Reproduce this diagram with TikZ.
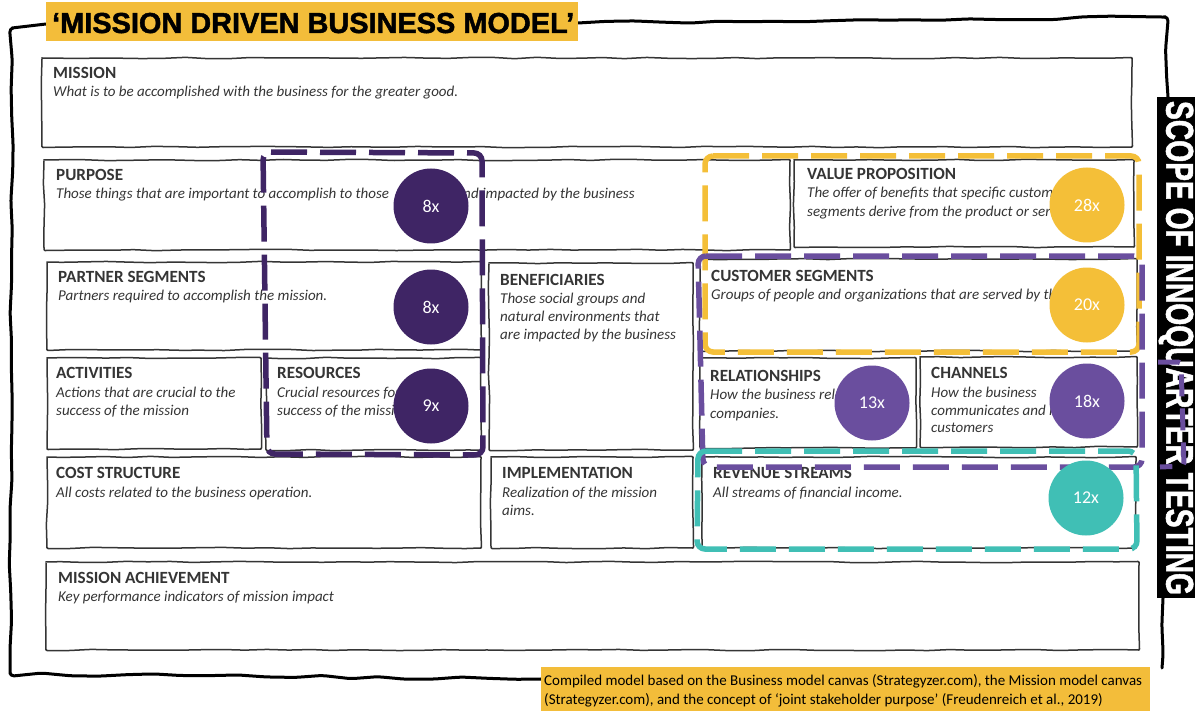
\documentclass[tikz,border=0pt]{standalone}
\usepackage{fontspec}
\usepackage{graphicx}
\setmainfont{Carlito}
\newfontfamily\heavy{Liberation Sans}[BoldFeatures={FakeBold=1.6}]
\usetikzlibrary{decorations.pathmorphing}
\definecolor{ink}{HTML}{353535}
\definecolor{dpurple}{HTML}{3F2565}
\definecolor{mpurple}{HTML}{6A4E9E}
\definecolor{myellow}{HTML}{F4BF38}
\definecolor{mteal}{HTML}{40BFB5}
\definecolor{capyellow}{HTML}{F3BD3A}
\tikzset{
  sketchbox/.style={draw=ink, line width=1.5pt, decorate, decoration={random steps, segment length=22pt, amplitude=0.7pt}, rounded corners=1pt, line join=round},
  frameline/.style={draw=black, line width=3pt, decorate, decoration={random steps, segment length=28pt, amplitude=1.5pt}, rounded corners=4pt, line join=round, line cap=round},
  head/.style={anchor=base west, inner sep=0pt, text=ink, font=\fontsize{17.1}{19}\selectfont\bfseries},
  desc/.style={anchor=base west, inner sep=0pt, text=ink, font=\fontsize{15}{18.5}\selectfont\itshape},
  badge/.style={circle, minimum size=75pt, inner sep=0pt, text=white, font=\fontsize{18}{18}\selectfont},
  dashline/.style={line width=5.5pt, dash pattern=on 36pt off 13pt, rounded corners=8pt},
  captext/.style={anchor=base west, inner sep=0pt, text=black, font=\fontsize{15}{17}\selectfont},
}
\begin{document}
\begin{tikzpicture}[x=1pt,y=-1pt]
\pgfmathsetseed{7}
\useasboundingbox (0,0) rectangle (1198,711);
\fill[white] (0,0) rectangle (1198,711);

% outer hand-drawn frame
\draw[frameline] (46,24) -- (12,28) -- (10,674) -- (541,679);
\draw[frameline] (578,23) -- (1166,17) -- (1168,97);
\draw[frameline] (1163,598) -- (1162,668);

% title
\fill[capyellow] (46,2) rectangle (578,41);
\node[anchor=base west, inner sep=0pt] (title) at (52,33) {\resizebox{522pt}{!}{\heavy\bfseries\fontsize{28.8}{30}\selectfont ‘MISSION DRIVEN BUSINESS MODEL’}};

% vertical label
\fill[black] (1157,97) rectangle (1195,598);
\node[rotate=-90, text=white, inner sep=0pt] (scope) at (1176,348) {\resizebox{494pt}{27pt}{\heavy\bfseries SCOPE OF INNOQUARTER TESTING}};

% boxes
\draw[sketchbox] (42,58) rectangle (1132,147);
\draw[sketchbox] (44,160) rectangle (790,250);
\draw[sketchbox] (794,160) rectangle (1134,247);
\draw[sketchbox] (47,262) rectangle (481,350);
\draw[sketchbox] (47,358) rectangle (261,449);
\draw[sketchbox] (266,358) rectangle (481,450);
\draw[sketchbox] (47,457) rectangle (481,548);
\draw[sketchbox] (489,263) rectangle (693,450);
\draw[sketchbox] (491,457) rectangle (693,548);
\draw[sketchbox] (700,259) rectangle (1137,351);
\draw[sketchbox] (700,358) rectangle (916,448);
\draw[sketchbox] (920,357) rectangle (1137,447);
\draw[sketchbox] (702,457) rectangle (1136,548);
\draw[sketchbox] (46,562) rectangle (1139,650);

% texts
\node[head] (h1) at (53,79) {MISSION};
\node[desc] (d1) at (53,97) {What is to be accomplished with the business for the greater good.};
\node[head] (h2) at (56,181) {PURPOSE};
\node[desc] (d2a) at (56,199) {Those things that are important to accomplish to those};
\node[desc, anchor=base east] (d2b) at (471,199) {an};
\node[desc] (d2c) at (d2b.base east) {d impacted by the business};
\node[head] (h3) at (807,180) {VALUE PROPOSITION};
\node[desc] (d3a) at (807,198) {The offer of benefits that specific custom};
\node[desc] (d3b) at (807,217) {segments derive from the product or serv};
\node[head] (h4) at (58,282) {PARTNER SEGMENTS};
\node[desc] (d4) at (58,300) {Partners required to accomplish the mission.};
\node[head] (h5) at (500,285) {BENEFICIARIES};
\node[desc] (d5a) at (500,303) {Those social groups and};
\node[desc] (d5b) at (500,321) {natural environments that};
\node[desc] (d5c) at (500,339) {are impacted by the business};
\node[head] (h6) at (711,281) {CUSTOMER SEGMENTS};
\node[desc] (d6) at (711,299) {Groups of people and organizations that are served by th};
\node[head] (h7) at (56,378) {ACTIVITIES};
\node[desc] (d7a) at (56,397) {Actions that are crucial to the};
\node[desc] (d7b) at (56,415) {success of the mission};
\node[head] (h8) at (277,378) {RESOURCES};
\node[desc] (d8a) at (277,397) {Crucial resources for};
\node[desc] (d8b) at (277,415) {success of the missio};
\node[head] (h9) at (710,381) {RELATIONSHIPS};
\node[desc] (d9a) at (710,399) {How the business relat};
\node[desc] (d9b) at (710,418) {companies.};
\node[head] (h10) at (931,378) {CHANNELS};
\node[desc] (d10a) at (931,397) {How the business};
\node[desc] (d10b) at (931,415) {communicates and int};
\node[desc] (d10c) at (931,432) {customers};
\node[head] (h11) at (56,478) {COST STRUCTURE};
\node[desc] (d11) at (56,497) {All costs related to the business operation.};
\node[head] (h12) at (502,478) {IMPLEMENTATION};
\node[desc] (d12a) at (502,497) {Realization of the mission};
\node[desc] (d12b) at (502,515) {aims.};
\node[head] (h13) at (713,478) {REVENUE STREAMS};
\node[desc] (d13) at (713,497) {All streams of financial income.};
\node[head] (h14) at (58,583) {MISSION ACHIEVEMENT};
\node[desc] (d14) at (58,601) {Key performance indicators of mission impact};

% dashed scopes
\draw[dashline, dpurple] (263,152) -- (482,153) -- (483,455) -- (267,454) -- cycle;
\draw[dashline, myellow] (705,156) -- (1139,156) -- (1139,352) -- (705,352) -- cycle;
\draw[dashline, mpurple] (698,256) -- (1142,256) -- (1142,467) -- (703,467) -- cycle;
\draw[dashline, mpurple, line width=5pt, dash pattern=on 22pt off 12pt, rounded corners=3pt] (1158,362) -- (1181,362) -- (1184,466) -- (1160,467);
\draw[dashline, mteal] (698,451) -- (1136,451) -- (1137,549) -- (697,549) -- cycle;

% badges
\node[badge, fill=dpurple] (c1) at (431,206) {8x};
\node[badge, fill=dpurple] (c2) at (431,307) {8x};
\node[badge, fill=dpurple] (c3) at (431,406) {9x};
\node[badge, fill=myellow] (c4) at (1087,205) {28x};
\node[badge, fill=myellow] (c5) at (1087,305) {20x};
\node[badge, fill=mpurple] (c6) at (872,403) {13x};
\node[badge, fill=mpurple] (c7) at (1087,401) {18x};
\node[badge, fill=mteal] (c8) at (1086,498) {12x};

% caption
\fill[capyellow] (541,667) rectangle (1150,711);
\node[captext] (cap1) at (544,685) {Compiled model based on the Business model canvas (Strategyzer.com), the Mission model canvas};
\node[captext] (cap2) at (544,704) {(Strategyzer.com), and the concept of ‘joint stakeholder purpose’ (Freudenreich et al., 2019)};
\end{tikzpicture}
\end{document}
